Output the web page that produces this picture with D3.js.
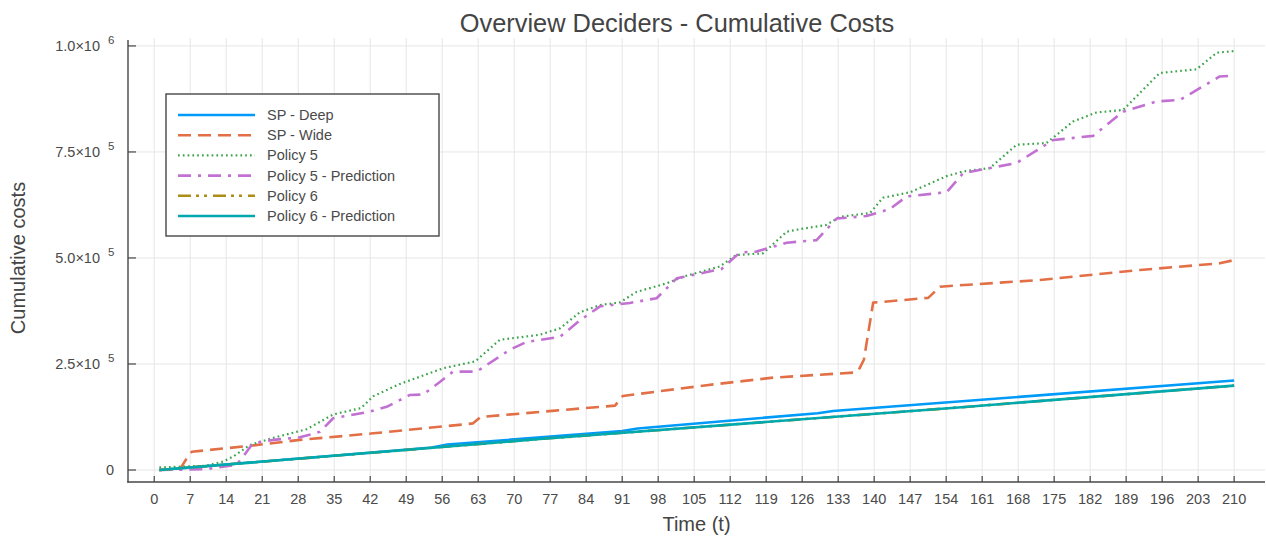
<!DOCTYPE html>
<html>
<head>
<meta charset="utf-8">
<script src="https://cdn.jsdelivr.net/npm/d3@7"></script>
<style>
    html, body { margin: 0; padding: 0; background: #fff; }
    svg { display: block; font-family: 'Liberation Sans', Arial, sans-serif; }
    .grid line { stroke: #e6e6e6; stroke-width: 1; }
    .axisLine { stroke: #474747; stroke-width: 1.4; }
    .tick { stroke: #474747; stroke-width: 1.2; }
    .tickText { fill: #4a4a4a; font-size: 14.5px; }
    .guide { fill: #444; font-size: 20px; }
    .title { fill: #444; font-size: 25.4px; }
    .series { fill: none; stroke-linejoin: round; }
</style>
</head>
<body>
<div id="chart"></div>
<script>
'use strict';

// Data (time t, cumulative cost in thousands)
const spDeep = [[1, 0], [54, 53], [57, 60], [91, 92], [94, 98], [129, 134], [132, 139], [210, 211]];
const spWide = [[1, 0], [5, 2], [6.2, 25], [7.3, 43], [18.6, 57], [28.3, 71], [42.6, 86.5], [55.5, 102],
    [60.7, 108], [62, 110], [63.5, 125], [78, 140], [89.6, 151.7], [91.1, 174.5], [107.4, 200],
    [120.4, 217.8], [136, 229.6], [137, 236], [138, 260], [139.8, 394.6], [150.5, 406], [152.8, 432],
    [156.6, 435.5], [172.2, 448], [191.7, 471.7], [207.2, 487.5], [210, 495]];
const policy5 = [[1, 6], [10, 10], [13.4, 20], [15.4, 32], [18.6, 59], [23.2, 76], [29.6, 96], [34.8, 131],
    [40.2, 146], [42.6, 174], [47.8, 203], [56.2, 240], [62.4, 256], [67.2, 307], [75, 319], [78.9, 334],
    [82.8, 372], [86.7, 389], [90.5, 395], [93.8, 420], [99.6, 440], [102.9, 456], [110, 480], [113.2, 507],
    [118.4, 511], [123, 562], [125.5, 568], [130.7, 578], [133.3, 597], [139.2, 606], [141.7, 642], [147, 655],
    [154.1, 693], [157.3, 704], [162.5, 712], [167.7, 767], [173.5, 771], [178.7, 822], [183.2, 843],
    [188.4, 849], [195.5, 936], [202.7, 945], [206.6, 984], [210, 988]];
const policy5Pred = [[1, 0], [10, 2], [16, 12], [17.5, 35], [19.2, 63], [23.2, 71], [28.3, 77], [32.2, 90],
    [34.8, 122], [41.9, 137.5], [45.2, 149], [49.7, 177], [52.3, 178], [55.6, 208], [58.1, 232], [62.7, 232],
    [69.2, 284], [72.4, 302], [78.9, 314], [82.8, 353], [86.7, 386], [92.5, 394], [97.7, 405], [101.6, 452],
    [110.3, 474], [113.9, 513], [117.1, 515], [123, 536], [128.8, 542], [132.7, 593], [138.5, 599], [143, 615],
    [146.3, 645], [154.1, 655], [157.3, 700], [162.5, 712], [167.7, 724], [174.8, 778], [182.6, 788],
    [188.4, 845], [194.9, 869], [199.5, 873], [207.2, 928], [210, 930]];
const policy6 = [[1, 0], [75, 73], [157, 148], [210, 199]];
const policy6Pred = [[1, 0], [75, 73], [157, 148], [210, 199]];

const seriesNames = ['SP - Deep', 'SP - Wide', 'Policy 5', 'Policy 5 - Prediction', 'Policy 6', 'Policy 6 - Prediction'];
const seriesColors = ['#009af9', '#e26f46', '#3da44d', '#c271d2', '#ac8d18', '#00a9ad'];
const seriesDashes = [null, '13,7', '1.7,3.1', '13,7,3,7', '13,5,3,5,3,6', null];
const seriesWidths = [2.6, 2.6, 2.2, 2.6, 2.6, 2.6];

const timeTicks = [0, 7, 14, 21, 28, 35, 42, 49, 56, 63, 70, 77, 84, 91, 98, 105, 112, 119, 126, 133,
    140, 147, 154, 161, 168, 175, 182, 189, 196, 203, 210];
const costTicks = [0, 250, 500, 750, 1000];

/* `````````````````````````````````\```````````````````````\
    Class: CostChart                |                       |
 ``````````````````````````````````/``````````````````````*/
class CostChart {

    constructor(_parent) {
        this.parent = _parent;
        this.initVis();
    }

    /*
    initVis
    */
    initVis() {
        const vis = this;

        vis.w = 1266;
        vis.h = 538;

        vis.svg = d3.select(`#${vis.parent}`)
            .append('svg')
            .attr('width', vis.w)
            .attr('height', vis.h);

        // Plot box
        vis.box = {left: 128, right: 1265, top: 40, bottom: 482};

        vis.x = d3.scaleLinear().domain([-5.1, 216]).range([vis.box.left, vis.box.right]);
        vis.y = d3.scaleLinear().domain([-28.3, 1014]).range([vis.box.bottom, vis.box.top]);

        vis.wrangleData();
    }

    /*
    wrangleData
    */
    wrangleData() {
        const vis = this;
        const all = [spDeep, spWide, policy5, policy5Pred, policy6, policy6Pred];
        vis.displayData = all.map((pts, i) => ({
            name: seriesNames[i],
            color: seriesColors[i],
            dash: seriesDashes[i],
            width: seriesWidths[i],
            values: pts.map(p => ({t: p[0], v: p[1]}))
        }));
        vis.updateVis();
    }

    /*
    updateVis
    */
    updateVis() {
        const vis = this;
        const b = vis.box;

        // Grid
        const grid = vis.svg.append('g').attr('class', 'grid');
        grid.selectAll('.vg').data(timeTicks).join('line')
            .attr('x1', d => vis.x(d)).attr('x2', d => vis.x(d))
            .attr('y1', b.top - 2).attr('y2', b.bottom);
        grid.selectAll('.hg').data(costTicks).join('line')
            .attr('class', 'hg')
            .attr('x1', b.left).attr('x2', b.right)
            .attr('y1', d => vis.y(d)).attr('y2', d => vis.y(d));

        // Axes lines
        vis.svg.append('line').attr('class', 'axisLine')
            .attr('x1', b.left).attr('x2', b.left).attr('y1', b.top).attr('y2', b.bottom + 0.7);
        vis.svg.append('line').attr('class', 'axisLine')
            .attr('x1', b.left - 0.7).attr('x2', b.right).attr('y1', b.bottom).attr('y2', b.bottom);

        // X ticks
        const xt = vis.svg.append('g');
        xt.selectAll('line').data(timeTicks).join('line')
            .attr('class', 'tick')
            .attr('x1', d => vis.x(d)).attr('x2', d => vis.x(d))
            .attr('y1', b.bottom).attr('y2', b.bottom - 6);
        xt.selectAll('text').data(timeTicks).join('text')
            .attr('class', 'tickText')
            .attr('x', d => vis.x(d))
            .attr('y', b.bottom + 22)
            .attr('text-anchor', 'middle')
            .text(d => d);

        // Y ticks
        const yt = vis.svg.append('g');
        yt.selectAll('line').data(costTicks).join('line')
            .attr('class', 'tick')
            .attr('x1', b.left).attr('x2', b.left + 8)
            .attr('y1', d => vis.y(d)).attr('y2', d => vis.y(d));
        costTicks.forEach(d => {
            const yy = vis.y(d);
            if (d === 0) {
                yt.append('text').attr('class', 'tickText')
                    .attr('x', 114).attr('y', yy + 5)
                    .attr('text-anchor', 'end').text('0');
                return;
            }
            const val = d * 1000;
            const ex = Math.floor(Math.log10(val));
            const man = (val / Math.pow(10, ex)).toFixed(1);
            yt.append('text').attr('class', 'tickText')
                .attr('x', 100).attr('y', yy + 5.5)
                .attr('text-anchor', 'end').text(`${man}×10`);
            yt.append('text').attr('class', 'tickText')
                .style('font-size', '11.5px')
                .attr('x', 108).attr('y', yy - 2)
                .text(ex);
        });

        // Series
        const line = d3.line().x(d => vis.x(d.t)).y(d => vis.y(d.v));
        vis.svg.append('g').selectAll('path')
            .data(vis.displayData)
            .join('path')
            .attr('class', 'series')
            .attr('d', d => line(d.values))
            .attr('stroke', d => d.color)
            .attr('stroke-width', d => d.width)
            .attr('stroke-dasharray', d => d.dash);

        // Legend
        const lg = vis.svg.append('g');
        lg.append('rect')
            .attr('x', 166).attr('y', 94).attr('width', 273).attr('height', 142)
            .attr('fill', '#fff').attr('stroke', '#474747').attr('stroke-width', 1.4);
        lg.selectAll('g').data(vis.displayData).join('g')
            .attr('transform', (d, i) => `translate(0, ${115 + i * 20.2})`)
            .each(function(d) {
                const row = d3.select(this);
                row.append('line')
                    .attr('x1', 178).attr('x2', 255)
                    .attr('stroke', d.color).attr('stroke-width', d.width)
                    .attr('stroke-dasharray', d.dash);
                row.append('text')
                    .attr('class', 'tickText')
                    .attr('x', 267).attr('y', 5)
                    .text(d.name);
            });

        // Titles
        vis.svg.append('text').attr('class', 'title')
            .attr('x', 677).attr('y', 32)
            .attr('text-anchor', 'middle')
            .text('Overview Deciders - Cumulative Costs');
        vis.svg.append('text').attr('class', 'guide')
            .attr('x', (b.left + b.right) / 2).attr('y', 531)
            .attr('text-anchor', 'middle')
            .text('Time (t)');
        vis.svg.append('text').attr('class', 'guide')
            .attr('transform', `translate(25, 258) rotate(-90)`)
            .attr('text-anchor', 'middle')
            .text('Cumulative costs');
    }
}

new CostChart('chart');
</script>
</body>
</html>
